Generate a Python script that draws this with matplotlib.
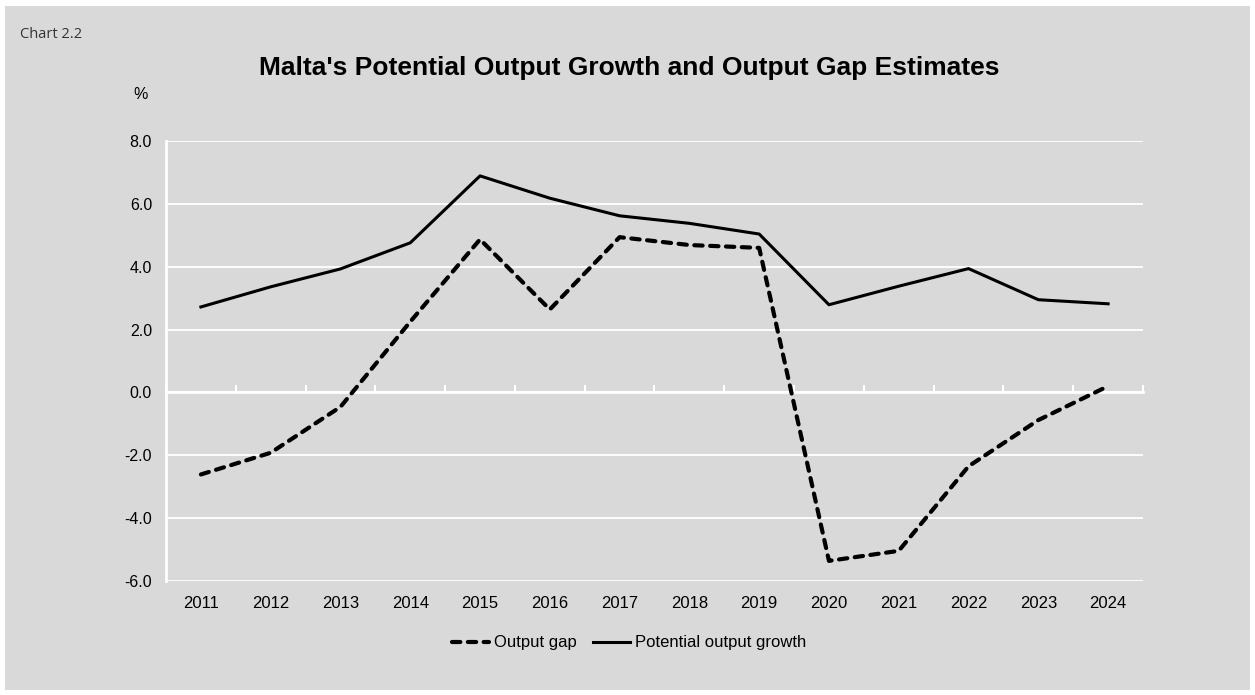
import matplotlib
matplotlib.use("Agg")
import matplotlib.pyplot as plt
from matplotlib.patches import Rectangle

plt.rcParams['font.family'] = ['Liberation Sans', 'DejaVu Sans']

years = ['2011', '2012', '2013', '2014', '2015', '2016', '2017',
         '2018', '2019', '2020', '2021', '2022', '2023', '2024']
output_gap = [-2.61, -1.92, -0.46, 2.25, 4.87, 2.64, 4.94,
              4.69, 4.60, -5.36, -5.04, -2.35, -0.88, 0.20]
potential_growth = [2.72, 3.36, 3.93, 4.76, 6.89, 6.18, 5.62,
                    5.38, 5.04, 2.79, 3.38, 3.94, 2.95, 2.82]
y_ticks = [-6.0, -4.0, -2.0, 0.0, 2.0, 4.0, 6.0, 8.0]

BG = '#d9d9d9'

fig = plt.figure(figsize=(12.55, 6.95), dpi=100, facecolor='white')
# grey panel behind everything
fig.patches.append(Rectangle((5 / 1255, 1 - 690 / 695), 1245 / 1255, 684 / 695,
                             transform=fig.transFigure, facecolor=BG,
                             edgecolor='none', zorder=-1))

ax = fig.add_axes([166 / 1255, 1 - 581 / 695, 977 / 1255, 440 / 695])
ax.set_facecolor(BG)

x = list(range(len(years)))
ax.plot(x, output_gap, color='black', lw=3.0, linestyle=(0, (2.0, 1.8)),
        dash_capstyle='round', label='Output gap', zorder=3)
ax.plot(x, potential_growth, color='black', lw=2.2,
        label='Potential output growth', zorder=3)

ax.set_xlim(-0.5, len(years) - 0.5)
ax.set_ylim(-6, 8)
ax.set_yticks(y_ticks)
ax.set_yticklabels([f'{v:.1f}' for v in y_ticks], fontsize=11.5)
ax.yaxis.grid(True, color='white', lw=1.3)
ax.set_axisbelow(True)
ax.tick_params(axis='y', length=0, pad=10)

for side in ('top', 'right'):
    ax.spines[side].set_visible(False)
ax.spines['left'].set_color('white')
ax.spines['left'].set_linewidth(2)
# bottom spine acts as the zero line, with category boundary ticks
ax.spines['bottom'].set_position(('data', 0))
ax.spines['bottom'].set_color('white')
ax.spines['bottom'].set_linewidth(2)
ax.set_xticks([i + 0.5 for i in range(-1, len(years))], minor=True)
ax.set_xticks([])
ax.tick_params(axis='x', which='minor', direction='in', length=5,
               width=1.5, color='white', labelbottom=False)

sec = ax.secondary_xaxis(location=0)
sec.set_xticks(x)
sec.set_xticklabels(years, fontsize=12)
sec.tick_params(length=0, pad=11)
sec.spines['bottom'].set_visible(False)

ax.text(-0.026, 1.105, '%', transform=ax.transAxes, fontsize=11.5,
        ha='center', va='center')

fig.text(20 / 1255, 1 - 34 / 695, 'Chart 2.2', fontsize=10.5,
         color='#333333', family=['Open Sans', 'DejaVu Sans'],
         ha='left', va='center')
fig.text(629 / 1255, 1 - 68 / 695,
         "Malta's Potential Output Growth and Output Gap Estimates",
         fontsize=19, fontweight='bold', ha='center', va='center')

fig.legend(loc='center', bbox_to_anchor=(629 / 1255, 1 - 643 / 695),
           ncol=2, frameon=False, fontsize=12, handlelength=2.2,
           handletextpad=0.3, columnspacing=1.0)

fig.savefig('out.png', dpi=100, facecolor='white')
